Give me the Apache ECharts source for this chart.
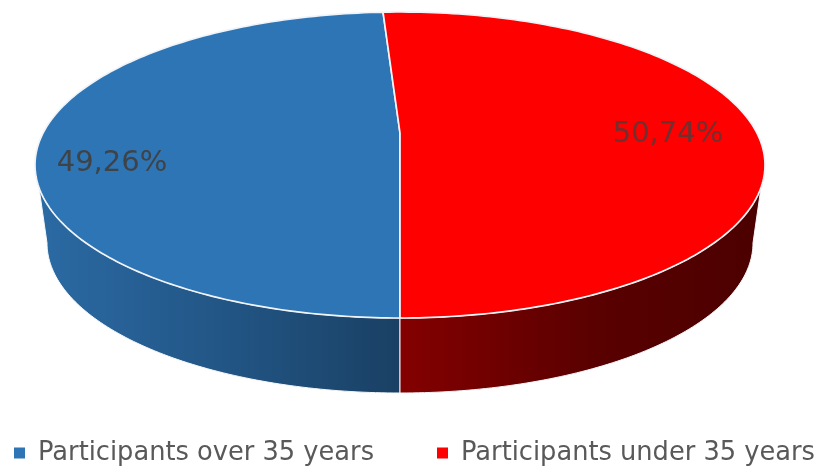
<!DOCTYPE html>
<html>
<head>
<meta charset="utf-8">
<script src="https://cdn.jsdelivr.net/npm/echarts@6/dist/echarts.min.js"></script>
<style>html,body{margin:0;padding:0;background:#fff}#c{width:816px;height:466px}</style>
</head>
<body>
<div id="c"></div>
<script>
const categories = ['Participants over 35 years', 'Participants under 35 years'];
const values = [49.26, 50.74];
const valueLabels = ['49,26%', '50,74%'];
const topColors = ['#2E75B6', '#FF0000'];
const sideStops = [
  [[0, '#2B6AA4'], [0.5, '#225686'], [1, '#1A4064']],
  [[0, '#840000'], [0.55, '#590000'], [1, '#4C0000']]
];
const labelPos = [[112, 163], [668, 134]];
const legendLeft = [14, 437];

const G = {
  top: { cx: 400, cy: 165, rx: 365, ry: 153 },
  bottom: { cx: 400, cy: 243, rx: 353, ry: 150 },
  apex: [400, 133],
  startDeg: 180,
  wallTop: [[180, 261.5], [98.5, 180]],
  wallBottom: [[270, 180], [180, 90]],
  wallX: [[38, 400], [400, 763]]
};
const total = values.reduce((a, b) => a + b, 0);

function pt(e, deg) {
  const r = deg * Math.PI / 180;
  return [e.cx + e.rx * Math.sin(r), e.cy - e.ry * Math.cos(r)];
}
function arc(e, a, b) {
  const out = [], n = Math.max(2, Math.ceil(Math.abs(b - a)));
  for (let i = 0; i <= n; i++) out.push(pt(e, a + (b - a) * i / n));
  return out;
}
function sliceSpan(idx) {
  let s = G.startDeg;
  for (let i = 0; i < idx; i++) s += values[i] / total * 360;
  return [s, s + values[idx] / total * 360];
}
function makeRender(idx) {
  return function () {
    const [a, b] = sliceSpan(idx);
    const wT = G.wallTop[idx], wB = G.wallBottom[idx], wX = G.wallX[idx];
    const wall = arc(G.top, wT[0], wT[1]).concat(arc(G.bottom, wB[0], wB[1]));
    const children = [{
      type: 'polygon',
      shape: { points: wall },
      style: {
        fill: new echarts.graphic.LinearGradient(wX[0], 0, wX[1], 0,
          sideStops[idx].map(s => ({ offset: s[0], color: s[1] })), true),
        stroke: '#F4F7FA', lineWidth: 1
      }
    }, {
      type: 'polygon',
      shape: { points: [G.apex].concat(arc(G.top, a, b)) },
      style: { fill: topColors[idx], stroke: '#F0F4F8', lineWidth: 1.7, lineJoin: 'round' }
    }, {
      type: 'text',
      style: {
        x: labelPos[idx][0], y: labelPos[idx][1], text: valueLabels[idx],
        font: '29px "DejaVu Sans"', fill: '#404040', opacity: idx === 0 ? 0.95 : 0.75,
        textAlign: 'center', textVerticalAlign: 'middle'
      }
    }];
    return { type: 'group', children };
  };
}

const chart = echarts.init(document.getElementById('c'), null, { renderer: 'canvas' });
chart.setOption({
  animation: false,
  legend: categories.map((name, i) => ({
    left: legendLeft[i], top: 440, padding: 0, itemWidth: 11, itemHeight: 11, icon: 'rect',
    data: [name],
    textStyle: { color: '#595959', fontSize: 25.7, fontFamily: 'DejaVu Sans', padding: [0, 0, 0, 8] },
    selectedMode: false
  })),
  series: categories.map((name, i) => ({
    type: 'custom',
    name,
    coordinateSystem: 'none',
    itemStyle: { color: topColors[i] },
    silent: true,
    data: [[values[i]]],
    renderItem: makeRender(i)
  }))
});
</script>
</body>
</html>
